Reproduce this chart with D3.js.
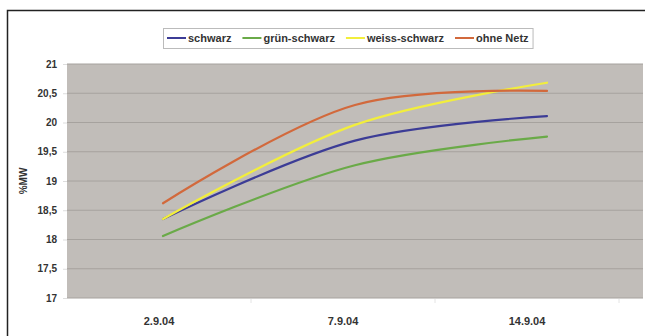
<!DOCTYPE html>
<html>
<head>
<meta charset="utf-8">
<script src="https://cdn.jsdelivr.net/npm/d3@7"></script>
<style>
  html, body { margin: 0; padding: 0; background: #fff; }
  svg text { font-family: "Liberation Sans", Arial, sans-serif; font-weight: bold; fill: #333; }
</style>
</head>
<body>
<svg id="chart" width="645" height="336"></svg>
<script>
const categories = ["2.9.04", "7.9.04", "14.9.04"];
const seriesNames = ["schwarz", "grün-schwarz", "weiss-schwarz", "ohne Netz"];
const seriesColors = ["#3c3c96", "#6aaa48", "#f2ee3c", "#d2693c"];
const schwarz = [18.35, 19.69, 20.11];
const gruenSchwarz = [18.06, 19.27, 19.76];
const weissSchwarz = [18.35, 19.96, 20.68];
const ohneNetz = [18.62, 20.3, 20.54];
const yTicks = [17, 17.5, 18, 18.5, 19, 19.5, 20, 20.5, 21];
const yTitle = "%MW";

const seriesValues = [schwarz, gruenSchwarz, weissSchwarz, ohneNetz];

const svg = d3.select("#chart");
const plot = { left: 67, right: 643, top: 64, bottom: 298 };

// outer frame (cropped at right/bottom)
svg.append("path")
  .attr("d", "M7.5,340 L7.5,10.5 L650,10.5")
  .attr("fill", "none").attr("stroke", "#222").attr("stroke-width", 1.5);

const x = d3.scaleBand().domain(categories).range([plot.left, plot.right]);
const xLabel = d3.scaleBand().domain(categories).range([plot.left, 619]);
const y = d3.scaleLinear().domain([17, 21]).range([plot.bottom, plot.top]);

// plot background
svg.append("rect")
  .attr("x", plot.left).attr("y", plot.top)
  .attr("width", plot.right - plot.left).attr("height", plot.bottom - plot.top)
  .attr("fill", "#c1bdb9");

// grid lines
svg.append("g").selectAll("line").data(yTicks).join("line")
  .attr("x1", plot.left).attr("x2", plot.right)
  .attr("y1", d => y(d)).attr("y2", d => y(d))
  .attr("stroke", "#a6a29e").attr("stroke-width", 1);

// y axis
const yAxis = svg.append("g").attr("transform", `translate(${plot.left},0)`)
  .call(d3.axisLeft(y).tickValues(yTicks).tickSize(4).tickPadding(6)
    .tickFormat(d => String(d).replace(".", ",")));
yAxis.select(".domain").remove();
yAxis.selectAll(".tick line").attr("stroke", "#ddd");
yAxis.selectAll("text").attr("font-size", 10).attr("fill", "#333")
  .attr("font-family", "Liberation Sans, Arial, sans-serif").attr("font-weight", "bold");

// x axis
const xAxis = svg.append("g").attr("transform", `translate(0,${plot.bottom})`)
  .call(d3.axisBottom(xLabel).tickSize(0).tickPadding(19));
xAxis.select(".domain").remove();
xAxis.selectAll("text").attr("font-size", 11).attr("fill", "#333")
  .attr("font-family", "Liberation Sans, Arial, sans-serif").attr("font-weight", "bold");
// small category separator ticks
svg.append("g").selectAll("line").data(categories).join("line")
  .attr("x1", d => xLabel(d) + xLabel.bandwidth()).attr("x2", d => xLabel(d) + xLabel.bandwidth())
  .attr("y1", plot.bottom + 1).attr("y2", plot.bottom + 5)
  .attr("stroke", "#e4e4e4");

// y title
svg.append("text")
  .attr("transform", `translate(27,${(plot.top + plot.bottom) / 2}) rotate(-90)`)
  .attr("text-anchor", "middle").attr("font-size", 10).text(yTitle);

// lines
const line = d3.line()
  .x((d, i) => x(categories[i]) + x.bandwidth() / 2)
  .y(d => y(d))
  .curve(d3.curveCatmullRom.alpha(0.5));

svg.append("g").selectAll("path").data(seriesValues).join("path")
  .attr("d", d => line(d))
  .attr("fill", "none")
  .attr("stroke", (d, i) => seriesColors[i])
  .attr("stroke-width", 2.2)
  .attr("stroke-linecap", "round");

// legend
const legend = svg.append("g");
const legendBox = legend.append("rect")
  .attr("fill", "#fff").attr("stroke", "#bbb").attr("stroke-width", 1);
let lx = 167;
const ly = 38;
seriesNames.forEach((name, i) => {
  legend.append("line")
    .attr("x1", lx).attr("x2", lx + 19).attr("y1", ly).attr("y2", ly)
    .attr("stroke", seriesColors[i]).attr("stroke-width", 2);
  const t = legend.append("text")
    .attr("x", lx + 21).attr("y", ly + 4)
    .attr("font-size", 11).text(name);
  lx += 21 + t.node().getComputedTextLength() + 11;
});
legendBox.attr("x", 163.5).attr("y", 28.5).attr("width", lx - 163 - 7).attr("height", 20);
</script>
</body>
</html>
